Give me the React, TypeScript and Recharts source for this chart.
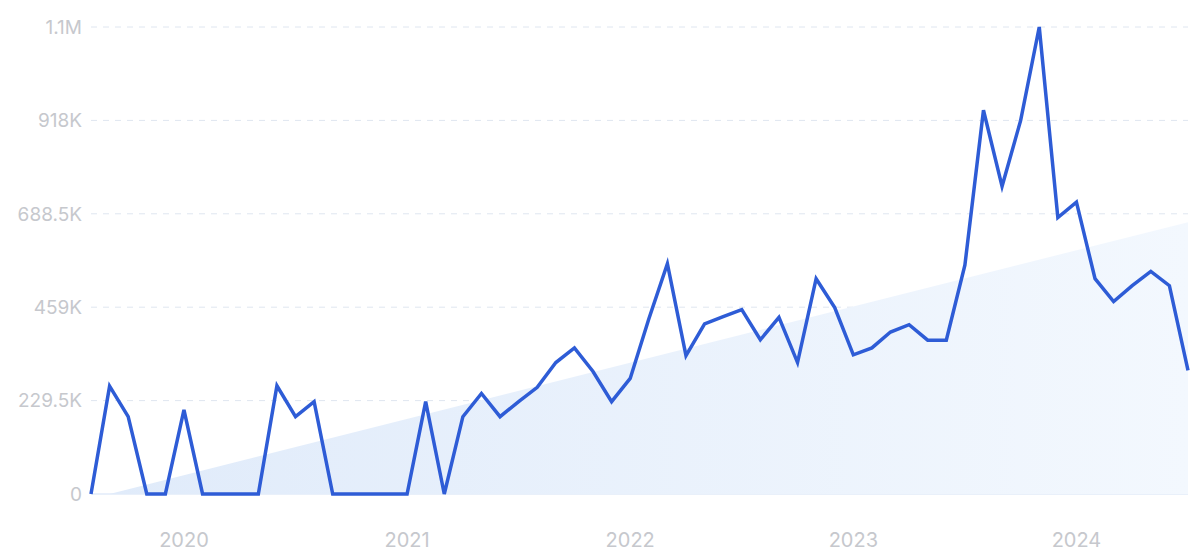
import React from 'react';
import { ComposedChart, Line, Area, XAxis, YAxis, CartesianGrid } from 'recharts';

const months = [
  '2019-08', '2019-09', '2019-10', '2019-11', '2019-12',
  '2020-01', '2020-02', '2020-03', '2020-04', '2020-05', '2020-06', '2020-07', '2020-08', '2020-09', '2020-10', '2020-11', '2020-12',
  '2021-01', '2021-02', '2021-03', '2021-04', '2021-05', '2021-06', '2021-07', '2021-08', '2021-09', '2021-10', '2021-11', '2021-12',
  '2022-01', '2022-02', '2022-03', '2022-04', '2022-05', '2022-06', '2022-07', '2022-08', '2022-09', '2022-10', '2022-11', '2022-12',
  '2023-01', '2023-02', '2023-03', '2023-04', '2023-05', '2023-06', '2023-07', '2023-08', '2023-09', '2023-10', '2023-11', '2023-12',
  '2024-01', '2024-02', '2024-03', '2024-04', '2024-05', '2024-06', '2024-07',
];

const searches = [
  0, 265000, 190000, 0, 0,
  207000, 0, 0, 0, 0, 266000, 190000, 227000, 0, 0, 0, 0,
  0, 227000, 0, 190000, 247000, 190000, 227000, 262000, 323000, 359000, 301000, 227000,
  284000, 430000, 566000, 340000, 418000, 436000, 453000, 379000, 434000, 323000, 529000, 458000,
  342000, 359000, 398000, 416000, 378000, 378000, 562000, 943000, 756000, 918000, 1147500, 679000,
  717000, 529000, 473000, 512000, 547000, 512000, 304000,
];

// trend line endpoints (the area between them is drawn straight)
const trendPoints: Record<string, number> = {
  '2019-09': 0,
  '2024-07': 668000,
};

const yTicks = [0, 229500, 459000, 688500, 918000, 1147500];
const gridTicks = [229500, 459000, 688500, 918000, 1147500];
const yearTicks = ['2020-01', '2021-01', '2022-01', '2023-01', '2024-01'];

const data = months.map((m, i) => ({
  month: m,
  value: searches[i],
  trend: trendPoints[m] ?? null,
}));

const formatY = (v: number) => {
  if (v === 0) return '0';
  if (v >= 1000000) return (v / 1000000).toFixed(1) + 'M';
  return v / 1000 + 'K';
};

const App: React.FC = () => {
  return (
    <div style={{ fontFamily: 'Inter, sans-serif' }}>
      <ComposedChart
        width={1192}
        height={548}
        data={data}
        margin={{ top: 19, right: 12, bottom: 0, left: 0 }}
      >
        <defs>
          <linearGradient id="trendFill" x1="0" y1="0" x2="1" y2="0">
            <stop offset="0%" stopColor="#e0ebfa" />
            <stop offset="100%" stopColor="#f3f8fe" />
          </linearGradient>
        </defs>
        <CartesianGrid vertical={false} horizontalValues={gridTicks} stroke="#dfe6f0" strokeDasharray="6 6" />
        <CartesianGrid vertical={false} horizontalValues={[0]} stroke="#d3e1f6" />
        <XAxis
          dataKey="month"
          ticks={yearTicks}
          tickFormatter={(m: string) => m.slice(0, 4)}
          axisLine={false}
          tickLine={false}
          tickSize={0}
          tickMargin={39}
          height={62}
          interval={0}
          tick={{ fill: '#c6c8cd', fontSize: 20 }}
        />
        <YAxis
          domain={[0, 1147500]}
          ticks={yTicks}
          tickFormatter={formatY}
          axisLine={false}
          tickLine={false}
          tickSize={0}
          tickMargin={9}
          width={83}
          tick={{ fill: '#c6c8cd', fontSize: 19 }}
        />
        <Area
          dataKey="trend"
          type="linear"
          connectNulls
          stroke="none"
          fill="url(#trendFill)"
          fillOpacity={1}
          isAnimationActive={false}
        />
        <Line
          dataKey="value"
          type="linear"
          stroke="#2e5cd6"
          strokeWidth={3.5}
          dot={false}
          activeDot={false}
          isAnimationActive={false}
        />
      </ComposedChart>
    </div>
  );
};

export default App;
